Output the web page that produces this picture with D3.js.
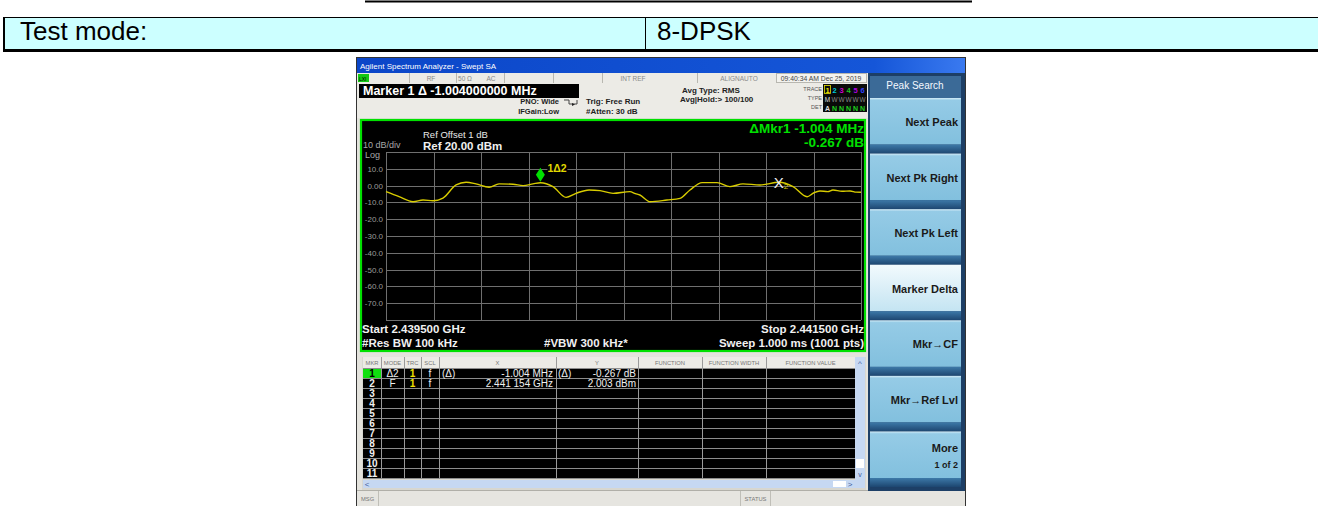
<!DOCTYPE html>
<html lang="en">
<head>
<meta charset="UTF-8">
<title>Spectrum analyzer - 8-DPSK</title>
<script src="https://d3js.org/d3.v7.min.js"></script>
<style>
  body { margin: 0; background: #fff; }
  svg { display: block; font-family: "Liberation Sans", Arial, sans-serif; }
  .grid line { stroke: #6f6f6f; stroke-width: 1; shape-rendering: crispEdges; }
  .grid .domain { display: none; }
</style>
</head>
<body>
<svg id="chart" width="1318" height="506"></svg>
<script>
// ---- data ----
const testModeLabel = "Test mode:";
const testModeValue = "8-DPSK";

const startFreq = 2.4395;   // GHz
const stopFreq = 2.4415;    // GHz
const refLevel = 20;        // dBm, top line
const dbPerDiv = 10;

const yTickLabels = ["10.0", "0.00", "-10.0", "-20.0", "-30.0", "-40.0", "-50.0", "-60.0", "-70.0"];

// trace 1 (freq in GHz, level in dBm)
const traceFreq = [2.439500, 2.439555, 2.439614, 2.439656, 2.439698, 2.439740, 2.439795, 2.439837,
                   2.439879, 2.439934, 2.439976, 2.440035, 2.440077, 2.440119, 2.440150, 2.440203,
                   2.440258, 2.440300, 2.440355, 2.440401, 2.440456, 2.440527, 2.440550, 2.440569,
                   2.440612, 2.440683, 2.440738, 2.440780, 2.440831, 2.440894, 2.440948, 2.441003,
                   2.441075, 2.441155, 2.441214, 2.441273, 2.441300, 2.441327, 2.441360, 2.441382,
                   2.441420, 2.441454, 2.441480, 2.441500];
const traceLevel = [-3.6, -6.6, -9.6, -8.6, -9.0, -7.4, 0.4, 2.0,
                    1.0, -1.0, 1.0, 0.8, 0.0, 1.0, 1.74, -0.6,
                    -7.0, -4.6, -2.6, -3.0, -4.6, -3.6, -4.8, -5.6,
                    -9.6, -8.6, -7.6, -2.6, 1.8, 1.8, -0.6, 1.0,
                    0.4, 2.0, -0.6, -6.6, -4.4, -3.2, -3.6, -2.6,
                    -3.4, -3.2, -3.9, -4.0];

const marker1 = { freq: 2.440150, level: 1.736 };
const marker2 = { freq: 2.441154, level: 2.003 };

// marker table
const tableHeaders = ["MKR", "MODE", "TRC", "SCL", "X", "", "Y", "FUNCTION", "FUNCTION WIDTH", "FUNCTION VALUE"];
const mkrMode = ["\u03942", "F"];
const mkrTrace = ["1", "1"];
const mkrScale = ["f", "f"];
const mkrXPrefix = ["(\u0394)", ""];
const mkrX = ["-1.004 MHz", "2.441 154 GHz"];
const mkrYPrefix = ["(\u0394)", ""];
const mkrY = ["-0.267 dB", "2.003 dBm"];
const tableRows = 11;

const softkeys = ["Next Peak", "Next Pk Right", "Next Pk Left", "Marker Delta", "Mkr\u2192CF", "Mkr\u2192Ref Lvl", "More"];

// ---- layout ----
const svg = d3.select("#chart");
const plot = { left: 386, right: 861, top: 152, bottom: 320 };

const x = d3.scaleLinear().domain([startFreq, stopFreq]).range([plot.left, plot.right]);
const y = d3.scaleLinear().domain([refLevel, refLevel - 10 * dbPerDiv]).range([plot.top, plot.bottom]);

// helper for text
function txt(g, tx, ty, s, opt = {}) {
    return g.append("text")
        .attr("x", tx).attr("y", ty)
        .attr("font-size", opt.size || 10)
        .attr("font-weight", opt.bold ? "bold" : "normal")
        .attr("fill", opt.fill || "#000")
        .attr("text-anchor", opt.anchor || "start")
        .text(s);
}

// ---- report table on top ----
svg.append("line").attr("x1", 365).attr("x2", 972).attr("y1", 1.5).attr("y2", 1.5)
    .attr("stroke", "#000").attr("stroke-width", 2);
svg.append("rect").attr("x", 4).attr("y", 17).attr("width", 1314).attr("height", 34).attr("fill", "#ccffff");
svg.append("line").attr("x1", 4).attr("x2", 1318).attr("y1", 17.5).attr("y2", 17.5).attr("stroke", "#000");
svg.append("line").attr("x1", 4).attr("x2", 1318).attr("y1", 50.5).attr("y2", 50.5)
    .attr("stroke", "#000").attr("stroke-width", 3);
svg.append("line").attr("x1", 4).attr("x2", 4).attr("y1", 17).attr("y2", 52)
    .attr("stroke", "#000").attr("stroke-width", 2);
svg.append("line").attr("x1", 645.5).attr("x2", 645.5).attr("y1", 17).attr("y2", 50).attr("stroke", "#000");
txt(svg, 20, 40, testModeLabel, { size: 26 });
txt(svg, 657, 40, testModeValue, { size: 26 });

// ---- analyzer screenshot ----
const scr = svg.append("g");
scr.append("rect").attr("x", 356).attr("y", 57).attr("width", 610).attr("height", 449).attr("fill", "#e4e3dd");

// title bar
const defs = svg.append("defs");
const tg = defs.append("linearGradient").attr("id", "titleGrad");
tg.append("stop").attr("offset", "0%").attr("stop-color", "#0b46c8");
tg.append("stop").attr("offset", "85%").attr("stop-color", "#1556d8");
tg.append("stop").attr("offset", "100%").attr("stop-color", "#3a7af0");
scr.append("rect").attr("x", 356).attr("y", 57).attr("width", 610).attr("height", 16).attr("fill", "url(#titleGrad)");
txt(scr, 360, 69, "Agilent Spectrum Analyzer - Swept SA", { size: 8, fill: "#fff" });

// status row
scr.append("rect").attr("x", 357).attr("y", 73).attr("width", 511).attr("height", 10).attr("fill", "#ecebe6");
scr.append("rect").attr("x", 358).attr("y", 74).attr("width", 11).attr("height", 8).attr("fill", "#14c814");
txt(scr, 359, 81, "LXI", { size: 5, fill: "#000" });
[409, 456, 504, 553, 602, 697, 776].forEach(sx => {
    scr.append("line").attr("x1", sx + 0.5).attr("x2", sx + 0.5).attr("y1", 73).attr("y2", 83).attr("stroke", "#b8b7b0");
});
[["RF", 431], ["50 \u03a9", 465], ["AC", 491], ["INT REF", 633], ["ALIGNAUTO", 739]].forEach(d => {
    txt(scr, d[1], 81, d[0], { size: 6.5, fill: "#8a8a8a", anchor: "middle" });
});
scr.append("rect").attr("x", 776.5).attr("y", 73.5).attr("width", 90).attr("height", 9).attr("fill", "#f3f2ee").attr("stroke", "#b8b7b0");
txt(scr, 821, 81, "09:40:34 AM Dec 25, 2019", { size: 6.8, fill: "#444", anchor: "middle" });

// settings row
scr.append("rect").attr("x", 357).attr("y", 83).attr("width", 511).attr("height", 35).attr("fill", "#ecebe6");
scr.append("rect").attr("x", 359).attr("y", 84).attr("width", 220).attr("height", 14).attr("fill", "#000");
txt(scr, 363, 95, "Marker 1 \u0394 -1.004000000 MHz", { size: 12.5, bold: true, fill: "#fff" });
txt(scr, 559, 104, "PNO: Wide", { size: 7.5, bold: true, fill: "#222", anchor: "end" });
txt(scr, 559, 114, "IFGain:Low", { size: 7.5, bold: true, fill: "#222", anchor: "end" });
scr.append("path").attr("d", "M564,100 h5 v4 h8 v-4").attr("fill", "none").attr("stroke", "#444");
scr.append("path").attr("d", "M572,103 l3,1.5 l-3,1.5 z").attr("fill", "#222");
txt(scr, 586, 104, "Trig: Free Run", { size: 8, bold: true, fill: "#222" });
txt(scr, 586, 114, "#Atten: 30 dB", { size: 8, bold: true, fill: "#222" });
txt(scr, 682, 93, "Avg Type: RMS", { size: 8, bold: true, fill: "#222" });
txt(scr, 680, 102, "Avg|Hold:> 100/100", { size: 8, bold: true, fill: "#222" });
txt(scr, 822, 91, "TRACE", { size: 5.5, fill: "#555", anchor: "end" });
txt(scr, 822, 100, "TYPE", { size: 5.5, fill: "#555", anchor: "end" });
txt(scr, 822, 109, "DET", { size: 5.5, fill: "#555", anchor: "end" });
scr.append("rect").attr("x", 823).attr("y", 84).attr("width", 44).attr("height", 28).attr("fill", "#0a0a0a");
const traceColors = ["#e8e000", "#00c8d8", "#d000d0", "#20c020", "#b000e0", "#3040ff"];
traceColors.forEach((c, i) => {
    if (i === 0) scr.append("rect").attr("x", 824.5).attr("y", 85.5).attr("width", 6).attr("height", 8).attr("fill", "none").attr("stroke", "#e8e000").attr("stroke-width", 0.8);
    txt(scr, 827.5 + i * 7, 92.5, String(i + 1), { size: 7.5, bold: true, fill: c, anchor: "middle" });
    txt(scr, 827.5 + i * 7, 101.5, i === 0 ? "M" : "W", { size: 6.5, fill: i === 0 ? "#ddd" : "#888", anchor: "middle" });
    txt(scr, 827.5 + i * 7, 110.5, i === 0 ? "A" : "N", { size: 7, bold: true, fill: i === 0 ? "#ddd" : "#1ed01e", anchor: "middle" });
});

// graticule display
scr.append("rect").attr("x", 361).attr("y", 120).attr("width", 504).attr("height", 231)
    .attr("fill", "#000").attr("stroke", "#00e000").attr("stroke-width", 2.2);

txt(scr, 363, 148, "10 dB/div", { size: 9, fill: "#a8a8a8" });
txt(scr, 365, 158, "Log", { size: 9, fill: "#a8a8a8" });
txt(scr, 423, 138, "Ref Offset 1 dB", { size: 9.5, fill: "#e8e8e8" });
txt(scr, 423, 150, "Ref 20.00 dBm", { size: 11.5, bold: true, fill: "#f0f0f0" });
txt(scr, 864, 133, "\u0394Mkr1 -1.004 MHz", { size: 13.5, bold: true, fill: "#00e000", anchor: "end" });
txt(scr, 864, 147, "-0.267 dB", { size: 13.5, bold: true, fill: "#00e000", anchor: "end" });

// grid from the axes
scr.append("g").attr("class", "grid")
    .attr("transform", `translate(0,${plot.bottom})`)
    .call(d3.axisBottom(x).tickValues(d3.range(11).map(i => startFreq + i * (stopFreq - startFreq) / 10))
        .tickSize(-(plot.bottom - plot.top)).tickFormat(""));
scr.append("g").attr("class", "grid")
    .attr("transform", `translate(${plot.left},0)`)
    .call(d3.axisLeft(y).tickValues(d3.range(11).map(i => refLevel - i * dbPerDiv))
        .tickSize(-(plot.right - plot.left)).tickFormat(""));

// y labels
yTickLabels.forEach((s, i) => {
    txt(scr, 383, y(refLevel - (i + 1) * dbPerDiv) + 3, s, { size: 8, fill: "#9c9c9c", anchor: "end" });
});

// trace
const traceData = traceFreq.map((f, i) => ({ f, v: traceLevel[i] }));
const line = d3.line().x(d => x(d.f)).y(d => y(d.v)).curve(d3.curveMonotoneX);
scr.append("path").datum(traceData).attr("d", line)
    .attr("fill", "none").attr("stroke", "#d8cc00").attr("stroke-width", 1.4);

// marker 1 (diamond) and marker 2 (X)
const m1x = x(marker1.freq), m1y = y(marker1.level);
scr.append("path").attr("d", `M${m1x},${m1y - 1} l-4.5,-7 l4.5,-7 l4.5,7 z`).attr("fill", "#00e000");
scr.append("rect").attr("x", m1x + 7).attr("y", m1y - 20).attr("width", 20).attr("height", 11).attr("fill", "#000");
txt(scr, m1x + 7, m1y - 11, "1\u03942", { size: 10.5, bold: true, fill: "#e0d800" });
const m2x = x(marker2.freq), m2y = y(marker2.level);
txt(scr, m2x, m2y + 6, "X", { size: 15, fill: "#f0f0f0", anchor: "middle" });
txt(scr, m2x + 5, m2y + 7, "2", { size: 8, fill: "#d8cc00" });

// bottom annotations
txt(scr, 362, 333, "Start 2.439500 GHz", { size: 11.5, bold: true, fill: "#f0f0f0" });
txt(scr, 362, 347, "#Res BW 100 kHz", { size: 11.5, bold: true, fill: "#f0f0f0" });
txt(scr, 544, 347, "#VBW 300 kHz*", { size: 11.5, bold: true, fill: "#f0f0f0" });
txt(scr, 864, 333, "Stop 2.441500 GHz", { size: 11.5, bold: true, fill: "#f0f0f0", anchor: "end" });
txt(scr, 864, 347, "Sweep  1.000 ms (1001 pts)", { size: 11.5, bold: true, fill: "#f0f0f0", anchor: "end" });

// ---- marker table ----
const colEdges = [363, 381, 404, 421, 439, 439, 556, 638, 702, 766, 855];
const tTop = 357, hdrH = 11, rowH = 10;
scr.append("rect").attr("x", 362).attr("y", tTop).attr("width", 504).attr("height", 133).attr("fill", "#d8d7d0");
scr.append("rect").attr("x", 363).attr("y", tTop).attr("width", 492).attr("height", hdrH).attr("fill", "#ecebe6");
scr.append("rect").attr("x", 363).attr("y", tTop + hdrH).attr("width", 492).attr("height", tableRows * rowH).attr("fill", "#000");
tableHeaders.forEach((h, i) => {
    if (!h) return;
    const a = colEdges[i], b = colEdges[i + 1];
    const cx = (i === 4) ? (a + colEdges[6]) / 2 : (a + b) / 2;
    txt(scr, cx, tTop + 8, h, { size: 5.8, fill: "#777", anchor: "middle" });
});
// row lines
for (let r = 0; r <= tableRows; r++) {
    scr.append("line").attr("x1", 363).attr("x2", 855).attr("y1", tTop + hdrH + r * rowH + 0.5).attr("y2", tTop + hdrH + r * rowH + 0.5)
        .attr("stroke", "#8c8c8c");
}
colEdges.forEach((c, i) => {
    if (i === 0 || i === 5) return;
    scr.append("line").attr("x1", c + 0.5).attr("x2", c + 0.5).attr("y1", tTop).attr("y2", tTop + hdrH + tableRows * rowH)
        .attr("stroke", "#9a9a9a");
});
scr.append("rect").attr("x", 363).attr("y", tTop + hdrH + 1).attr("width", 18).attr("height", rowH - 1).attr("fill", "#10e010");
for (let r = 0; r < tableRows; r++) {
    const by = tTop + hdrH + (r + 1) * rowH - 1.5;
    txt(scr, 372, by, String(r + 1), { size: 10, bold: true, fill: r === 0 ? "#000" : "#f0f0f0", anchor: "middle" });
    if (r < mkrMode.length) {
        txt(scr, 392.5, by, mkrMode[r], { size: 10, fill: "#f0f0f0", anchor: "middle" });
        txt(scr, 412.5, by, mkrTrace[r], { size: 10, bold: true, fill: "#f0e000", anchor: "middle" });
        txt(scr, 430, by, mkrScale[r], { size: 10, fill: "#f0f0f0", anchor: "middle" });
        txt(scr, 442, by, mkrXPrefix[r], { size: 10, fill: "#f0f0f0" });
        txt(scr, 553, by, mkrX[r], { size: 10, fill: "#f0f0f0", anchor: "end" });
        txt(scr, 558, by, mkrYPrefix[r], { size: 10, fill: "#f0f0f0" });
        txt(scr, 636, by, mkrY[r], { size: 10, fill: "#f0f0f0", anchor: "end" });
    }
}
// scrollbars
scr.append("rect").attr("x", 855).attr("y", tTop).attr("width", 10).attr("height", 123).attr("fill", "#c6d8f2");
scr.append("rect").attr("x", 856).attr("y", 459).attr("width", 8).attr("height", 9).attr("fill", "#fff");
txt(scr, 860, tTop + 9, "^", { size: 8, fill: "#4060a0", anchor: "middle" });
txt(scr, 860, 477, "v", { size: 7, fill: "#4060a0", anchor: "middle" });
scr.append("rect").attr("x", 363).attr("y", 480).attr("width", 502).attr("height", 8).attr("fill", "#c6d8f2");
scr.append("rect").attr("x", 833).attr("y", 481).attr("width", 13).attr("height", 6).attr("fill", "#fff");
txt(scr, 367, 487, "<", { size: 8, fill: "#4060a0", anchor: "middle" });
txt(scr, 850, 487, ">", { size: 8, fill: "#4060a0", anchor: "middle" });

// bottom status bar
scr.append("rect").attr("x", 357).attr("y", 491).attr("width", 608).attr("height", 15).attr("fill", "#e6e5e0");
scr.append("line").attr("x1", 357).attr("x2", 965).attr("y1", 490.5).attr("y2", 490.5).attr("stroke", "#b0afa8");
txt(scr, 361, 501, "MSG", { size: 5.8, fill: "#777" });
scr.append("line").attr("x1", 378.5).attr("x2", 378.5).attr("y1", 491).attr("y2", 506).attr("stroke", "#c0bfb8");
scr.append("line").attr("x1", 740.5).attr("x2", 740.5).attr("y1", 491).attr("y2", 506).attr("stroke", "#c0bfb8");
scr.append("line").attr("x1", 770.5).attr("x2", 770.5).attr("y1", 491).attr("y2", 506).attr("stroke", "#c0bfb8");
txt(scr, 755.5, 501, "STATUS", { size: 5.8, fill: "#777", anchor: "middle" });

// ---- softkey panel ----
scr.append("rect").attr("x", 868).attr("y", 73).attr("width", 98).attr("height", 418).attr("fill", "#1d3f66");
scr.append("rect").attr("x", 870).attr("y", 76).attr("width", 91).attr("height", 22).attr("fill", "#3b6a97");
txt(scr, 915, 89, "Peak Search", { size: 10, fill: "#f4f8ff", anchor: "middle" });

const kg = defs.append("linearGradient").attr("id", "keyGrad").attr("x1", 0).attr("x2", 0).attr("y1", 0).attr("y2", 1);
kg.append("stop").attr("offset", "0%").attr("stop-color", "#d4ecf7");
kg.append("stop").attr("offset", "5%").attr("stop-color", "#95cbe6");
kg.append("stop").attr("offset", "100%").attr("stop-color", "#82c0de");
const kd = defs.append("linearGradient").attr("id", "keyBand").attr("x1", 0).attr("x2", 0).attr("y1", 0).attr("y2", 1);
kd.append("stop").attr("offset", "0%").attr("stop-color", "#3d79a8");
kd.append("stop").attr("offset", "100%").attr("stop-color", "#1d4670");
const ks = defs.append("linearGradient").attr("id", "keySel").attr("x1", 0).attr("x2", 0).attr("y1", 0).attr("y2", 1);
ks.append("stop").attr("offset", "0%").attr("stop-color", "#f2fafd");
ks.append("stop").attr("offset", "100%").attr("stop-color", "#c4e4f2");

const keyY = d3.scaleLinear().domain([0, softkeys.length]).range([98, 487]);
softkeys.forEach((k, i) => {
    const top = keyY(i), h = keyY(i + 1) - keyY(i);
    scr.append("rect").attr("x", 870).attr("y", top).attr("width", 91).attr("height", h - 9)
        .attr("fill", k === "Marker Delta" ? "url(#keySel)" : "url(#keyGrad)");
    scr.append("rect").attr("x", 870).attr("y", top + h - 9).attr("width", 91).attr("height", 9).attr("fill", "url(#keyBand)");
    if (k === "More") {
        txt(scr, 958, top + 21, k, { size: 11, bold: true, fill: "#1a1a1a", anchor: "end" });
        txt(scr, 958, top + 37, "1 of 2", { size: 9, bold: true, fill: "#1a1a1a", anchor: "end" });
    } else {
        txt(scr, 958, top + 28, k, { size: 11, bold: true, fill: "#1a1a1a", anchor: "end" });
    }
});
scr.append("rect").attr("x", 868).attr("y", 491).attr("width", 97).attr("height", 15).attr("fill", "#e6e5e0");

// outer frame
scr.append("rect").attr("x", 356.5).attr("y", 57.5).attr("width", 609).attr("height", 449)
    .attr("fill", "none").attr("stroke", "#333");
</script>
</body>
</html>
